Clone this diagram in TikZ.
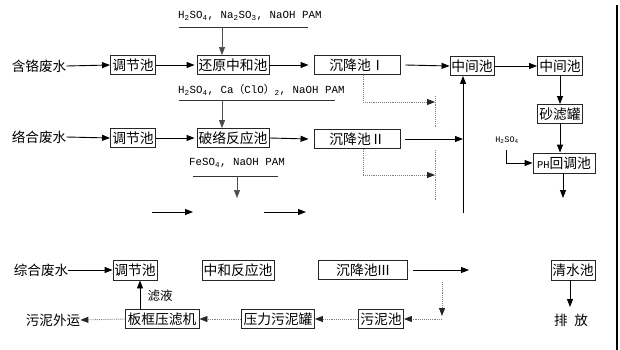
\documentclass[tikz,border=0pt]{standalone}
\usepackage{fontspec}
\setmainfont{Liberation Mono}
\newfontfamily\cjk{Noto Sans CJK SC}
\usetikzlibrary{arrows.meta}
\begin{document}
\begin{tikzpicture}[x=1pt,y=-1pt,
  box/.style={draw=black!85,line width=0.9pt,inner sep=0pt,minimum height=19pt,font=\cjk\fontsize{13.8}{14}\selectfont},
  lbl/.style={inner sep=0pt,font=\cjk\fontsize{13.6}{14}\selectfont},
  rea/.style={inner sep=0pt,font=\fontsize{10.8}{11}\selectfont},
  arr/.style={-{Triangle[length=8pt,width=6pt]},line width=0.9pt},
  dot/.style={-{Triangle[length=8pt,width=6pt,color=black!85]},line width=0.9pt,black!50,densely dotted},
  dotl/.style={line width=0.9pt,black!50,densely dotted},
  thin/.style={-{Triangle[length=8pt,width=6pt]},line width=0.7pt,black!70},
  rl/.style={line width=0.9pt,black!80}]
\useasboundingbox (0,0) rectangle (620,350);
\fill[white] (0,0) rectangle (620,350);
\draw[line width=1.2pt] (617,5) -- (617,350);

% row 1
\node[lbl] (t1) at (39,66) {含铬废水};
\node[box,minimum width=45pt] (b1) at (133,65) {调节池};
\node[box,minimum width=72pt] (b2) at (233,65) {还原中和池};
\node[box,minimum width=86pt] (s1) at (357,65) {沉降池Ⅰ};
\node[box,minimum width=44pt] (m1) at (472,66) {中间池};
\node[box,minimum width=45pt] (m2) at (560,66) {中间池};
\draw[arr] (t1.east) -- (b1.west);
\draw[arr] (b1.east) -- ([xshift=-2pt]b2.west);
\draw[arr] (b2.east) -- ([xshift=-5pt]s1.west);
\draw[arr] ([xshift=5pt]s1.east) -- (m1.west);
\draw[arr] (m1.east) -- (m2.west);

% reagent 1
\node[rea,anchor=west] (r1) at (178,16) {H\textsubscript{2}SO\textsubscript{4}, Na\textsubscript{2}SO\textsubscript{3}, NaOH PAM};
\coordinate (r1a) at (179,27);
\coordinate (r1b) at (308,27);
\coordinate (r1c) at (222,27);
\draw[rl] (r1a) -- (r1b);
\draw[thin] (r1c) -- (r1c |- b2.north);

% row 2
\node[lbl] (t2) at (39,137) {络合废水};
\node[box,minimum width=45pt] (b3) at (133,138) {调节池};
\node[box,minimum width=72pt] (b4) at (233,138) {破络反应池};
\node[box,minimum width=86pt] (s2) at (357,139) {沉降池Ⅱ};
\draw[arr] (t2.east) -- (b3.west);
\draw[arr] (b3.east) -- ([xshift=-2pt]b4.west);
\draw[arr] (b4.east) -- ([xshift=-5pt]s2.west);

% reagent 2
\node[rea,anchor=west] (r2) at (178,90) {H\textsubscript{2}SO\textsubscript{4}, Ca{\cjk（}ClO{\cjk）}\textsubscript{2}, NaOH PAM};
\coordinate (r2a) at (179,100);
\coordinate (r2b) at (335,100);
\coordinate (r2c) at (222,100);
\draw[rl] (r2a) -- (r2b);
\draw[thin] (r2c) -- (r2c |- b4.north);

% reagent 3
\node[rea] (r3) at (237,163) {FeSO\textsubscript{4}, NaOH PAM};
\coordinate (r3a) at (193,176);
\coordinate (r3b) at (278,176);
\coordinate (r3c) at (237,176);
\coordinate (r3d) at (237,198);
\draw[rl] (r3a) -- (r3b);
\draw[thin] (r3c) -- (r3d);

% loose arrows
\coordinate (la1) at (152,212); \coordinate (la2) at (193,212);
\coordinate (lb1) at (264,212); \coordinate (lb2) at (306,212);
\draw[arr] (la1) -- (la2);
\draw[arr] (lb1) -- (lb2);

% collector
\coordinate (cbot) at (463,213);
\coordinate (cmid) at (463,139);
\draw[arr] (cbot) -- (cbot |- m1.south);
\draw[arr] ([xshift=5pt]s2.east) -- (cmid);

% dotted branches
\coordinate (d1a) at (363,102); \coordinate (d1b) at (435,102);
\coordinate (d1t) at (435,96); \coordinate (d1u) at (435,128);
\draw[dotl] (d1a |- s1.south) -- (d1a);
\draw[dot] (d1a) -- (d1b);
\draw[dotl] (d1t) -- (d1u);
\coordinate (d2a) at (363,175); \coordinate (d2b) at (435,175);
\coordinate (d2t) at (435,150); \coordinate (d2u) at (435,200);
\draw[dotl] (d2a |- s2.south) -- (d2a);
\draw[dot] (d2a) -- (d2b);
\draw[dotl] (d2t) -- (d2u);

% right column
\node[box,minimum width=45pt] (sand) at (560,114) {砂滤罐};
\node[box,minimum width=62pt,minimum height=20pt] (ph) at (564,163) {\fontsize{10.5}{10}\selectfont\rmfamily PH\cjk\fontsize{13.8}{14}\selectfont 回调池};
\draw[arr] (m2.south) -- (sand.north);
\draw[arr] (sand.south) -- (sand.south |- ph.north);
\node[rea,font=\fontsize{8.5}{9}\selectfont] (h2) at (507,140) {H\textsubscript{2}SO\textsubscript{4}};
\coordinate (hc) at (506,150);
\draw[arr] (hc) -- (hc |- ph.west) -- (ph.west);
\coordinate (phd) at (563,198);
\draw[arr] (ph.south -| phd) -- (phd);

% row 4
\node[lbl] (t3) at (41,270) {综合废水};
\node[box,minimum width=44pt,minimum height=20pt] (b5) at (135,270) {调节池};
\node[box,minimum width=72pt,minimum height=20pt] (nz) at (238,270) {中和反应池};
\node[box,minimum width=89pt] (s3) at (363,270) {沉降池III};
\node[box,minimum width=44pt,minimum height=20pt] (qs) at (573,270) {清水池};
\draw[arr] (t3.east) -- (b5.west);
\coordinate (s3r) at (469,270);
\draw[arr] ([xshift=5pt]s3.east) -- (s3r);
\node[lbl] (pf) at (571,320) {排\hspace{0.5em}放};
\coordinate (qa) at (570,280);
\coordinate (qb) at (570,307);
\draw[arr] (qa) -- (qb);

% sludge line
\node[box,minimum width=45pt] (wn) at (381,319) {污泥池};
\node[box,minimum width=73pt] (yl) at (278,319) {压力污泥罐};
\node[box,minimum width=74pt] (bk) at (162,319) {板框压滤机};
\node[lbl] (wy) at (53,320) {污泥外运};
\coordinate (s3d) at (442,282);
\coordinate (s3e) at (442,316);
\coordinate (s3f) at (442,319);
\draw[dot] (s3d) -- (s3e);
\draw[dot] (s3f) -- (wn.east);
\draw[dot] (wn.west) -- (yl.east);
\draw[dot] (yl.west) -- (bk.east);
\draw[dot] (bk.west) -- (wy.east);
\coordinate (fl) at (140,309.5);
\draw[arr] (fl) -- (fl |- b5.south);
\node[lbl,font=\cjk\fontsize{12.5}{13}\selectfont] (lv) at (160,296) {滤液};
\end{tikzpicture}
\end{document}
